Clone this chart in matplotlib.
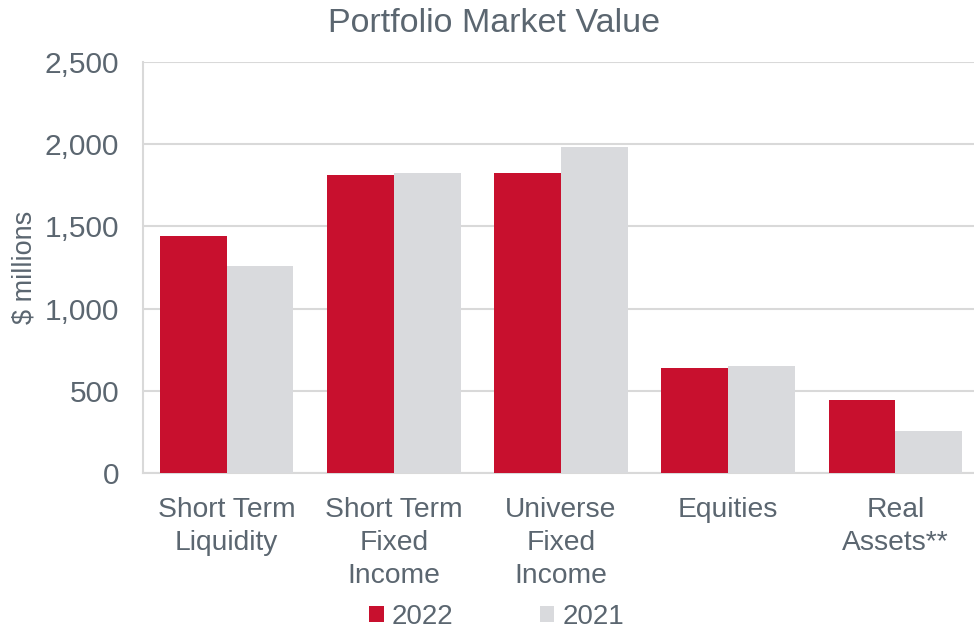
import matplotlib
matplotlib.use("Agg")
import matplotlib.pyplot as plt
import numpy as np

categories = ["Short Term\nLiquidity", "Short Term\nFixed\nIncome", "Universe\nFixed\nIncome", "Equities", "Real\nAssets**"]
values_2022 = [1440, 1810, 1822, 638, 443]
values_2021 = [1260, 1823, 1982, 648, 255]
series_labels = ["2022", "2021"]
yticks = [0, 500, 1000, 1500, 2000, 2500]
ytick_labels = ["0", "500", "1,000", "1,500", "2,000", "2,500"]

plt.rcParams['font.family'] = ['Liberation Sans', 'DejaVu Sans']
text_color = "#5B6670"
red = "#C8102E"
grey = "#D9DADD"
grid_color = "#D9D9D9"

fig = plt.figure(figsize=(9.74, 6.31), dpi=100)
ax = fig.add_axes([0.1468, 0.2504, 0.8584, 0.6513])

x = np.arange(len(categories))
w = 0.4
ax.bar(x - w/2, values_2022, width=w, color=red, label=series_labels[0], zorder=3)
ax.bar(x + w/2, values_2021, width=w, color=grey, label=series_labels[1], zorder=3)

ax.set_xlim(-0.5, len(categories) - 0.5)
ax.set_ylim(0, 2500)
ax.set_yticks(yticks)
ax.set_yticklabels(ytick_labels, fontsize=21.5, color=text_color)
ax.set_xticks(x)
ax.set_xticklabels(categories, fontsize=20.3, color=text_color, linespacing=1.35, va="top")
ax.tick_params(axis="y", length=0, pad=17)
ax.tick_params(axis="x", length=0, pad=17)
ax.yaxis.grid(True, color=grid_color, linewidth=1.5, zorder=0)
for s in ["top", "right"]:
    ax.spines[s].set_visible(False)
for s in ["left", "bottom"]:
    ax.spines[s].set_color(grid_color)
    ax.spines[s].set_linewidth(1.5)

ax.set_ylabel("$ millions", fontsize=19.5, color=text_color, labelpad=5)
fig.text(0.507, 0.962, "Portfolio Market Value", fontsize=24.5, color=text_color, ha="center", va="center")

fig.legend(loc="center", bbox_to_anchor=(0.51, 0.022), ncol=2, frameon=False,
           fontsize=20, labelcolor=text_color, handlelength=0.53, handleheight=0.53,
           handletextpad=0.3, columnspacing=3.1)

fig.savefig("out.png", dpi=100)
